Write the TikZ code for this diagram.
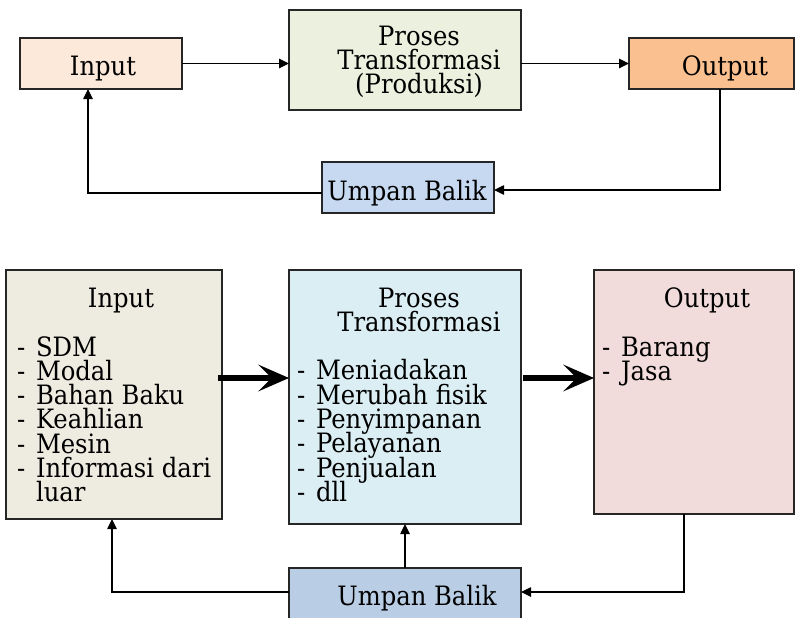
\documentclass[tikz,border=0pt]{standalone}
\usepackage{fontspec}
\setmainfont{DejaVu Serif}[FakeStretch=0.91]
\usetikzlibrary{arrows.meta,positioning,calc}
\definecolor{inTop}{HTML}{FDE9D9}
\definecolor{prTop}{HTML}{EBF1DE}
\definecolor{outTop}{HTML}{FAC090}
\definecolor{ubTop}{HTML}{C6D9F1}
\definecolor{inBot}{HTML}{EEECE1}
\definecolor{prBot}{HTML}{DAEEF3}
\definecolor{outBot}{HTML}{F2DCDB}
\definecolor{ubBot}{HTML}{B9CDE5}
\newcommand{\itm}{\makebox[14.25pt][l]{-}}
\newcommand{\diagfont}{\fontsize{20pt}{18.2pt}\selectfont\lineskiplimit=-100pt\relax}

\begin{document}
\begin{tikzpicture}[
    x=0.75pt, y=-0.75pt,
    font=\diagfont,
    box/.style={rectangle, draw=black!85, line width=1.1pt,
                inner sep=0pt, outer sep=0pt},
    txt/.style={inner sep=0pt, outer sep=0pt},
    arr/.style={-{Triangle[length=7.5pt,width=7pt]}, line width=1.1pt},
    bigarr/.style={-{Stealth[length=23pt,width=20pt,inset=10pt]}, line width=4pt}
  ]
  \useasboundingbox (0,0) rectangle (795,617);

  % Top diagram
  \node[box, fill=inTop, minimum width=121.5pt, minimum height=38.25pt]  (in1)  at (101,63.5)  {};
  \node[box, fill=prTop, minimum width=174pt, minimum height=75pt]       (pr1)  at (405,60)    {};
  \node[box, fill=outTop, minimum width=123.75pt, minimum height=38.25pt] (out1) at (711.5,63.5) {};
  \node[box, fill=ubTop, minimum width=129pt, minimum height=38.25pt]    (ub1)  at (408,187.5) {};
  \node[txt, anchor=base] (in1t) at ($(in1)+(2,11.5)$) {Input};
  \node[txt, anchor=north, align=center] (pr1t) at ($(pr1.north)+(14,15.6)$) {Proses\\Transformasi\\(Produksi)};
  \node[txt, anchor=base] (out1t) at ($(out1)+(13.5,11.5)$) {Output};
  \node[txt, anchor=base] (ub1t) at ($(ub1)+(-1,12.5)$) {Umpan Balik};
  \draw[arr] (in1.east) -- (in1.east -| pr1.west);
  \draw[arr] (out1.west -| pr1.east) -- (out1.west);
  \draw[arr] ($(out1.south)+(8.5,0)$) |- ($(ub1.east)+(0,2.5)$);
  \draw[arr] ($(ub1.west)+(0,5.5)$) -| ($(in1.south)+(-13,0)$);

  % Bottom diagram
  \node[box, fill=inBot, minimum width=162pt, minimum height=186.75pt]  (in2)  at (114,394.5) {};
  \node[box, fill=prBot, minimum width=174pt, minimum height=190.5pt]   (pr2)  at (405,397)   {};
  \node[box, fill=outBot, minimum width=150pt, minimum height=183pt]    (out2) at (694,392)   {};
  \node[box, fill=ubBot, minimum width=174pt, minimum height=46.5pt]    (ub2)  at (405,599)   {};

  \node[txt, anchor=base] (in2t) at ($(in2.north)+(7,37)$) {Input};
  \node[txt, anchor=north west, align=left] (in2l) at ($(in2.north west)+(11,66.3)$)
    {\itm SDM\\\itm Modal\\\itm Bahan Baku\\\itm Keahlian\\\itm Mesin\\\itm Informasi dari\\\hspace*{14.25pt}luar};
  \node[txt, anchor=north, align=center] (pr2t) at ($(pr2.north)+(14,17.6)$) {Proses\\Transformasi};
  \node[txt, anchor=north west, align=left] (pr2l) at ($(pr2.north west)+(8,89.7)$)
    {\itm Meniadakan\\\itm Merubah fisik\\\itm Penyimpanan\\\itm Pelayanan\\\itm Penjualan\\\itm dll};
  \node[txt, anchor=base] (out2t) at ($(out2.north)+(13,37)$) {Output};
  \node[txt, anchor=north west, align=left] (out2l) at ($(out2.north west)+(8,66.6)$)
    {\itm Barang\\\itm Jasa};
  \node[txt, anchor=base] (ub2t) at ($(ub2)+(12,6)$) {Umpan Balik};

  \coordinate (a1) at ($(in2.east)+(-4,-16.5)$);
  \coordinate (a2) at ($(pr2.east |- a1)+(2,0)$);
  \draw[bigarr] (a1) -- (a1 -| pr2.west);
  \draw[bigarr] (a2) -- (a2 -| out2.west);
  \draw[arr] ($(out2.south)+(-10,0)$) |- ($(ub2.east)+(0,-7)$);
  \draw[arr] ($(ub2.west)+(0,-7)$) -| ($(in2.south)+(-2,0)$);
  \draw[arr] (ub2.north) -- (pr2.south);
\end{tikzpicture}
\end{document}
